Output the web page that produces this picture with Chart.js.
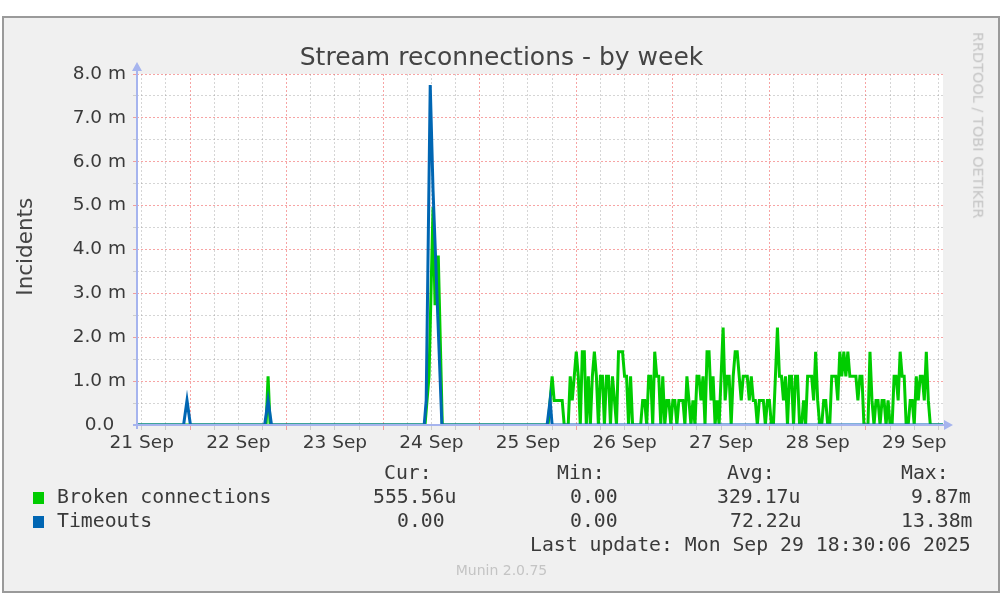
<!DOCTYPE html>
<html>
<head>
<meta charset="utf-8">
<script src="https://cdn.jsdelivr.net/npm/chart.js@4.4.1/dist/chart.umd.min.js"></script>
<style>
html, body { margin: 0; padding: 0; background: #fff; }
#wrap { position: relative; width: 1008px; height: 606px; overflow: hidden; }
#frame { position: absolute; left: 2px; top: 16px; width: 994px; height: 573px; border: 2px solid #9a9a9a; background: #f0f0f0; }
#chart { position: absolute; left: 0; top: 0; }
.t { position: absolute; white-space: pre; color: #3a3a3a; line-height: 1; }
.sans { font-family: "DejaVu Sans", sans-serif; }
.mono { font-family: "DejaVu Sans Mono", monospace; font-size: 19.8px; line-height: 19.8px; }
.sq { position: absolute; width: 11px; height: 12px; }
</style>
</head>
<body>
<div id="wrap">
  <div id="frame"></div>
  <canvas id="chart" width="1008" height="606"></canvas>

  <div class="t sans" style="left:0;width:1003px;text-align:center;top:44px;font-size:25px;color:#444;">Stream reconnections - by week</div>
  <div class="t sans" style="left:-75px;width:200px;text-align:center;top:236px;font-size:21.5px;color:#444;transform:rotate(-90deg);">Incidents</div>
  <div class="t sans" style="left:878px;width:200px;text-align:center;top:118px;font-size:14.5px;color:#c4c4c4;transform:rotate(90deg);">RRDTOOL / TOBI OETIKER</div>

  <div class="t mono" style="left:384px;top:463px;">Cur:</div>
  <div class="t mono" style="left:557px;top:463px;">Min:</div>
  <div class="t mono" style="left:727px;top:463px;">Avg:</div>
  <div class="t mono" style="left:901px;top:463px;">Max:</div>

  <div class="sq" style="left:33px;top:492px;background:#00cc00;"></div>
  <div class="t mono" style="left:57px;top:487px;">Broken connections</div>
  <div class="t mono" style="left:373px;top:487px;">555.56u</div>
  <div class="t mono" style="left:570px;top:487px;">0.00</div>
  <div class="t mono" style="left:717px;top:487px;">329.17u</div>
  <div class="t mono" style="left:911px;top:487px;">9.87m</div>

  <div class="sq" style="left:33px;top:516px;background:#0066b3;"></div>
  <div class="t mono" style="left:57px;top:511px;">Timeouts</div>
  <div class="t mono" style="left:397px;top:511px;">0.00</div>
  <div class="t mono" style="left:570px;top:511px;">0.00</div>
  <div class="t mono" style="left:730px;top:511px;">72.22u</div>
  <div class="t mono" style="left:901px;top:511px;">13.38m</div>

  <div class="t mono" style="left:530px;top:535px;">Last update: Mon Sep 29 18:30:06 2025</div>
  <div class="t sans" style="left:0;width:1003px;text-align:center;top:563px;font-size:14px;color:#c4c4c4;">Munin 2.0.75</div>
</div>

<script>
// hours since 21 Sep 00:00, values in milli-incidents per second
const dayLabels = ['21 Sep', '22 Sep', '23 Sep', '24 Sep', '25 Sep', '26 Sep', '27 Sep', '28 Sep', '29 Sep'];
const yTickLabels = ['0.0  ', '1.0 m', '2.0 m', '3.0 m', '4.0 m', '5.0 m', '6.0 m', '7.0 m', '8.0 m'];

const startHour = 10.82;
const endHour = 211.15;

const timeoutHours  = [10.82, 22.4, 23.25, 24.1, 42.55, 43.4, 44.25, 82.2, 82.7, 83.7, 84.4, 86.6, 112.75, 113.5, 114.0, 211.15];
const timeoutValues = [0, 0, 0.56, 0, 0, 0.56, 0, 0, 0.56, 7.75, 5.35, 0, 0, 0.56, 0, 0];

const brokenHours  = [10.82, 42.9, 43.4, 43.9, 82.4, 83.4, 84.4, 84.9, 85.7, 86.7, 112.5];
const brokenValues = [0, 0, 1.11, 0, 0, 1.11, 4.96, 2.73, 3.86, 0, 0];

// from 25 Sep 17:00 on, one sample every half hour
const tailStart = 113.0;
const tailStep = 0.5;
const brokenTail = [
  0, 0.56, 1.11, 0.56, 0.56, 0.56, 0.56, 0.56, 0, 0,
  0, 1.11, 0.56, 1.11, 1.67, 1.11, 0, 1.67, 1.67, 0,
  1.11, 0, 1.11, 1.67, 1.11, 0, 1.11, 1.11, 0, 1.11,
  1.11, 0, 1.11, 0.56, 0, 1.67, 1.67, 1.67, 1.11, 1.11,
  0, 1.11, 0, 0, 0, 0, 0, 0.56, 0.56, 0,
  1.11, 1.11, 0, 1.67, 1.11, 1.11, 0, 1.11, 0, 0.56,
  0.56, 0, 0.56, 0.56, 0, 0.56, 0.56, 0.56, 0, 1.11,
  0.56, 0, 0.56, 0, 1.11, 1.11, 0.56, 1.11, 0, 1.67,
  1.67, 0.56, 1.11, 0, 0.56, 0, 1.11, 2.22, 0.56, 1.11,
  1.11, 0, 1.11, 1.67, 1.67, 1.11, 0.56, 1.11, 1.11, 1.11,
  0.56, 1.11, 0.56, 0.56, 0, 0.56, 0.56, 0.56, 0, 0.56,
  0.56, 0, 0, 1.11, 2.22, 1.11, 1.11, 0.56, 1.11, 0,
  1.11, 1.11, 0, 1.11, 1.11, 0, 0, 0.56, 0, 1.11,
  1.11, 1.11, 0.56, 1.67, 0.56, 0, 0, 0.56, 0.56, 0,
  0, 1.11, 1.11, 1.11, 0.56, 1.67, 1.11, 1.67, 1.11, 1.67,
  1.11, 1.11, 1.11, 1.11, 0.56, 1.11, 1.11, 0, 0, 0,
  1.67, 0.56, 0, 0.56, 0.56, 0, 0.56, 0.56, 0, 0.56,
  0, 0, 1.11, 1.11, 0.56, 1.67, 1.11, 1.11, 0, 0,
  0.56, 0.56, 0, 1.11, 0.56, 1.11, 1.11, 0.56, 1.67, 0.56,
  0, 0, 0
];

const brokenPoints = brokenHours.map((h, i) => ({ x: h, y: brokenValues[i] }));
brokenTail.forEach((v, i) => brokenPoints.push({ x: tailStart + i * tailStep, y: v }));
brokenPoints.push({ x: endHour, y: 0 });

const timeoutPoints = timeoutHours.map((h, i) => ({ x: h, y: timeoutValues[i] }));

const majorGrid = 'rgba(240, 90, 90, 0.55)';
const minorGrid = 'rgba(150, 150, 150, 0.4)';

const plotBackground = {
  id: 'plotBackground',
  beforeDraw(chart) {
    const { ctx, chartArea: a } = chart;
    ctx.save();
    ctx.fillStyle = '#fff';
    ctx.fillRect(a.left, a.top, a.right - a.left, a.bottom - a.top);
    ctx.restore();
  }
};

// rrdtool style axes with arrow heads, drawn over the data
const axisArrows = {
  id: 'axisArrows',
  afterDatasetsDraw(chart) {
    const { ctx, chartArea: a } = chart;
    ctx.save();
    ctx.strokeStyle = '#a6b4ee';
    ctx.fillStyle = '#a6b4ee';
    ctx.lineWidth = 2;
    ctx.beginPath();
    ctx.moveTo(a.left - 4, a.bottom);
    ctx.lineTo(a.right + 2, a.bottom);
    ctx.moveTo(a.left, a.bottom + 4);
    ctx.lineTo(a.left, a.top - 4);
    ctx.stroke();
    ctx.beginPath();
    ctx.moveTo(a.right + 10, a.bottom);
    ctx.lineTo(a.right + 1, a.bottom - 5);
    ctx.lineTo(a.right + 1, a.bottom + 5);
    ctx.closePath();
    ctx.moveTo(a.left, a.top - 12);
    ctx.lineTo(a.left - 5, a.top - 3);
    ctx.lineTo(a.left + 5, a.top - 3);
    ctx.closePath();
    ctx.fill();
    ctx.restore();
  }
};

Chart.defaults.font.family = 'DejaVu Sans';
Chart.defaults.color = '#3a3a3a';

new Chart(document.getElementById('chart'), {
  type: 'line',
  data: {
    datasets: [
      {
        label: 'Broken connections',
        data: brokenPoints,
        borderColor: '#00cc00',
        borderWidth: 3,
        pointRadius: 0,
        tension: 0,
        fill: false,
        order: 2
      },
      {
        label: 'Timeouts',
        data: timeoutPoints,
        borderColor: '#0066b3',
        borderWidth: 3,
        pointRadius: 0,
        tension: 0,
        fill: false,
        order: 1
      }
    ]
  },
  options: {
    responsive: false,
    animation: false,
    layout: { padding: { left: 0, top: 74, right: 65, bottom: 141 } },
    plugins: { legend: { display: false }, tooltip: { enabled: false } },
    scales: {
      x: {
        type: 'linear',
        min: startHour,
        max: endHour,
        afterBuildTicks(scale) {
          const ticks = [];
          for (let h = 12; h <= endHour; h += 6) ticks.push({ value: h });
          scale.ticks = ticks;
        },
        afterFit(scale) { scale.height = 40; },
        grid: {
          color: ctx => (ctx.tick && ctx.tick.value % 24 === 0 ? majorGrid : minorGrid),
          lineWidth: 1,
          tickLength: 5
        },
        border: { display: false, dash: [2, 2] },
        ticks: {
          autoSkip: false,
          maxRotation: 0,
          padding: 2,
          font: { size: 18.5 },
          callback: v => ((v - 12) % 24 === 0 ? dayLabels[(v - 12) / 24] : '')
        }
      },
      y: {
        min: 0,
        max: 8,
        afterFit(scale) { scale.width = 137; },
        grid: {
          color: ctx => (ctx.tick && ctx.tick.value % 1 === 0 ? majorGrid : minorGrid),
          lineWidth: 1,
          tickLength: 4
        },
        border: { display: false, dash: [2, 2] },
        ticks: {
          stepSize: 0.5,
          autoSkip: false,
          padding: 7,
          font: { size: 18.5 },
          callback: v => (v % 1 === 0 ? yTickLabels[v] : '')
        }
      }
    }
  },
  plugins: [plotBackground, axisArrows]
});
</script>
</body>
</html>
